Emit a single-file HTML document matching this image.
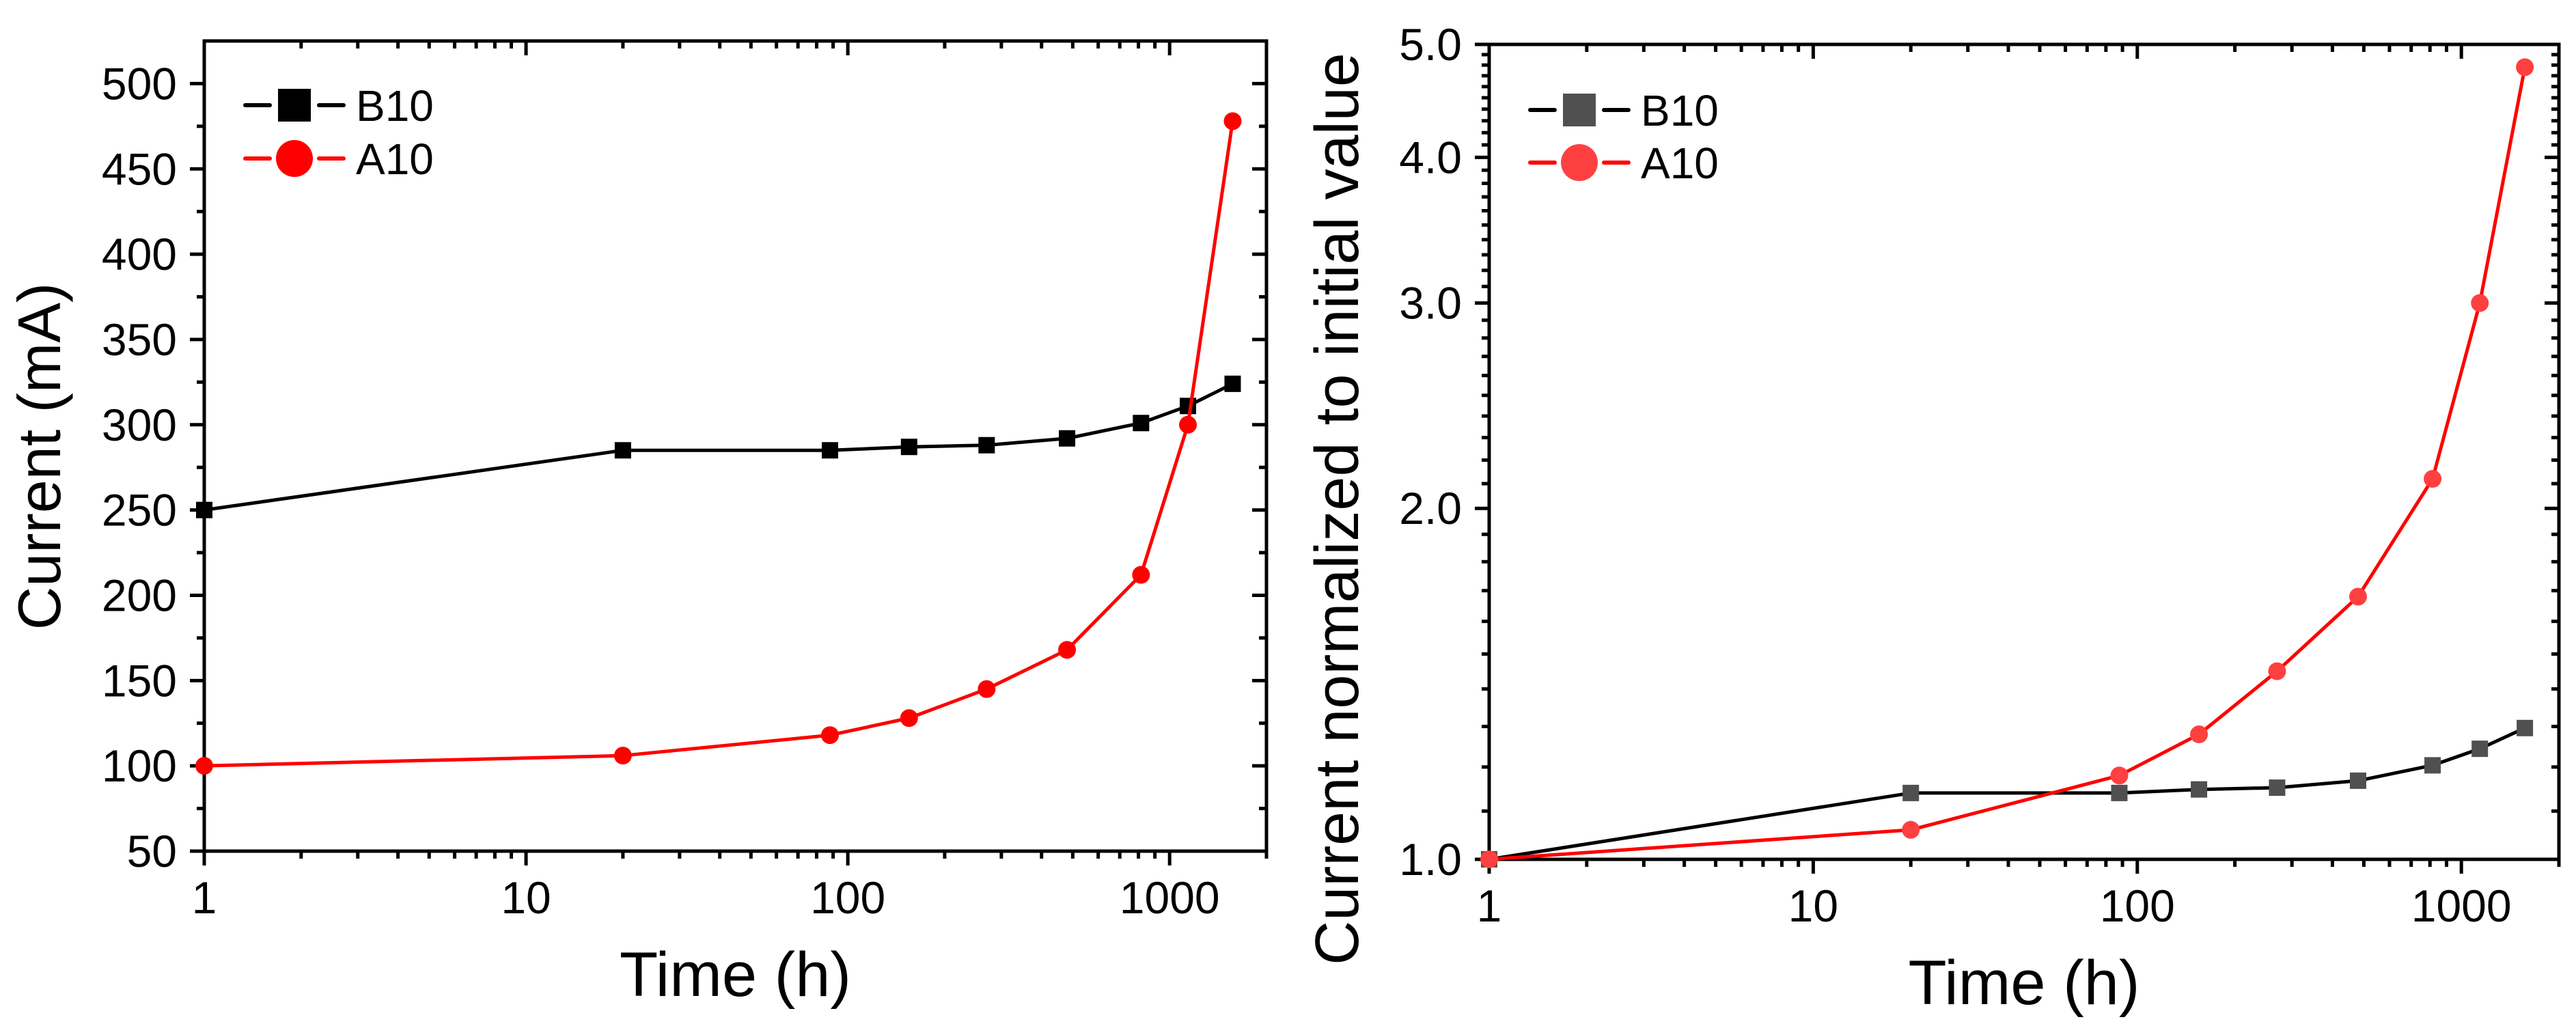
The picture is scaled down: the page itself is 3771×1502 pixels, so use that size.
<!DOCTYPE html>
<html><head><meta charset="utf-8"><style>
html,body{margin:0;padding:0;background:#fff;}
svg{display:block;font-family:"Liberation Sans",Arial,sans-serif;}
</style></head><body>
<svg id="fig" width="3771" height="1502" viewBox="0 0 3771 1502" xmlns="http://www.w3.org/2000/svg"></svg>
<script>
const times = [1, 20, 88, 155, 270, 480, 815, 1140, 1570];
const b10Current = [250, 285, 285, 287, 288, 292, 301, 311, 324];
const a10Current = [100, 106, 118, 128, 145, 168, 212, 300, 478];
const b10Norm = [1.0, 1.14, 1.14, 1.148, 1.152, 1.168, 1.204, 1.244, 1.296];
const a10Norm = [1.0, 1.06, 1.18, 1.28, 1.45, 1.68, 2.12, 3.0, 4.78];
const xTickLabels = ["1", "10", "100", "1000"];
const leftYTicks = [50, 100, 150, 200, 250, 300, 350, 400, 450, 500];
const rightYTicks = [1, 2, 3, 4, 5];
const rightYTickLabels = ["1.0", "2.0", "3.0", "4.0", "5.0"];

const NS = "http://www.w3.org/2000/svg";
const svg = document.getElementById("fig");
function el(tag, attrs, parent) {
  const e = document.createElementNS(NS, tag);
  for (const k in attrs) e.setAttribute(k, attrs[k]);
  (parent || svg).appendChild(e);
  return e;
}

function makeChart(cfg) {
  const g = el("g", {});
  
  
  const L = cfg.L, R = cfg.R, T = cfg.T, B = cfg.B;
  const xMin = 1, xMax = 2000;
  const sx = v => L + (Math.log10(v) - Math.log10(xMin)) / (Math.log10(xMax) - Math.log10(xMin)) * (R - L);
  const sy = cfg.logY
    ? v => B - (Math.log10(v) - Math.log10(cfg.yMin)) / (Math.log10(cfg.yMax) - Math.log10(cfg.yMin)) * (B - T)
    : v => B - (v - cfg.yMin) / (cfg.yMax - cfg.yMin) * (B - T);
  const SW = 5, MAJ = 21, MIN = 11;
  // frame
  const frame = el("rect", {x: L, y: T, width: R - L, height: B - T, fill: "none", stroke: "#000", "stroke-width": SW}, g);
  
  
  // x ticks
  const xt = el("g", {stroke: "#000", "stroke-width": SW}, g);
  
  
  for (let d = 0; d <= 3; d++) {
    for (let m = 1; m <= 9; m++) {
      const v = m * Math.pow(10, d);
      if (v > xMax) break;
      const x = sx(v), len = m === 1 ? MAJ : MIN;
      el("line", {x1: x, y1: B, x2: x, y2: B + len}, xt);
      el("line", {x1: x, y1: T, x2: x, y2: T + len}, xt);
    }
  }
  xTickLabels.forEach((t, i) => {
    const tx = el("text", {x: sx(Math.pow(10, i)), y: B + 91, "font-size": 66, "text-anchor": "middle", fill: "#000"}, g);
    tx.textContent = t;
    
    
  });
  // y ticks
  const yt = el("g", {stroke: "#000", "stroke-width": SW}, g);
  
  
  cfg.minorY.forEach(v => {
    const y = sy(v);
    el("line", {x1: L - MIN, y1: y, x2: L, y2: y}, yt);
    el("line", {x1: R - MIN, y1: y, x2: R, y2: y}, yt);
  });
  cfg.yTicks.forEach((v, i) => {
    const y = sy(v);
    el("line", {x1: L - MAJ, y1: y, x2: L, y2: y}, yt);
    el("line", {x1: R - MAJ, y1: y, x2: R, y2: y}, yt);
    const tx = el("text", {x: L - 40, y: y + 23, "font-size": 66, "text-anchor": "end", fill: "#000"}, g);
    tx.textContent = cfg.yLabels[i];
    
    
  });
  // titles
  const xtitle = el("text", {x: (L + R) / 2, y: B + 212, "font-size": 92, "text-anchor": "middle", fill: "#000"}, g);
  xtitle.textContent = "Time (h)";
  
  
  const ytitle = el("text", {x: 0, y: 0, "font-size": cfg.ytSize, "text-anchor": "middle", fill: "#000",
    transform: `translate(${cfg.ytX},${cfg.ytY}) rotate(-90)`}, g);
  ytitle.textContent = cfg.yTitle;
  
  
  // series
  cfg.series.forEach(s => {
    const sg = el("g", {}, g);
    
    
    const pts = times.map((t, i) => sx(t) + "," + sy(s.values[i])).join(" ");
    const pl = el("polyline", {points: pts, fill: "none", stroke: s.line, "stroke-width": 5, "stroke-linejoin": "round"}, sg);
    
    
    times.forEach((t, i) => {
      const x = sx(t), y = sy(s.values[i]);
      let m;
      if (s.shape === "square") m = el("rect", {x: x - 12, y: y - 12, width: 24, height: 24, fill: s.fill}, sg);
      else m = el("circle", {cx: x, cy: y, r: 13, fill: s.fill}, sg);
      
      
    });
  });
  // legend
  const lg = el("g", {}, g);
  
  
  cfg.series.forEach((s, i) => {
    const y = T + cfg.legY[i];
    const eg = el("g", {}, lg);
    
    
    el("line", {x1: L + 60, y1: y, x2: L + 96, y2: y, stroke: s.line, "stroke-width": 6, "stroke-linecap": "round"}, eg);
    el("line", {x1: L + 168, y1: y, x2: L + 204, y2: y, stroke: s.line, "stroke-width": 6, "stroke-linecap": "round"}, eg);
    if (s.shape === "square") el("rect", {x: L + 108, y: y - 24, width: 48, height: 48, fill: s.fill}, eg);
    else el("circle", {cx: L + 132, cy: y, r: 27, fill: s.fill}, eg);
    const tx = el("text", {x: L + 222, y: y + 23, "font-size": 64, fill: "#000"}, eg);
    tx.textContent = s.name.toUpperCase();
  });
}

const leftMinor = [];
for (let v = 75; v < 525; v += 50) leftMinor.push(v);
const rightMinor = [];
for (let v = 1.1; v < 5; v += 0.1) { const r = Math.round(v * 10) / 10; if (r % 1 !== 0) rightMinor.push(r); }

makeChart({
  name: "left-chart", L: 299, R: 1854, T: 60, B: 1246, logY: false, yMin: 50, yMax: 525,
  yTicks: leftYTicks, yLabels: leftYTicks.map(String), minorY: leftMinor,
  yTitle: "Current (mA)", ytX: 88, ytY: 668, ytSize: 88, legY: [94, 172],
  series: [
    {name: "b10", values: b10Current, line: "#000", fill: "#000", shape: "square"},
    {name: "a10", values: a10Current, line: "#ff0000", fill: "#ff0000", shape: "circle"}
  ]
});
makeChart({
  name: "right-chart", L: 2180, R: 3746, T: 65, B: 1258, logY: true, yMin: 1, yMax: 5,
  yTicks: rightYTicks, yLabels: rightYTickLabels, minorY: rightMinor,
  yTitle: "Current normalized to initial value", ytX: 1988, ytY: 745, ytSize: 90, legY: [96, 173],
  series: [
    {name: "b10", values: b10Norm, line: "#000", fill: "#505050", shape: "square"},
    {name: "a10", values: a10Norm, line: "#ff0000", fill: "#ff4040", shape: "circle"}
  ]
});
</script>
</body></html>
